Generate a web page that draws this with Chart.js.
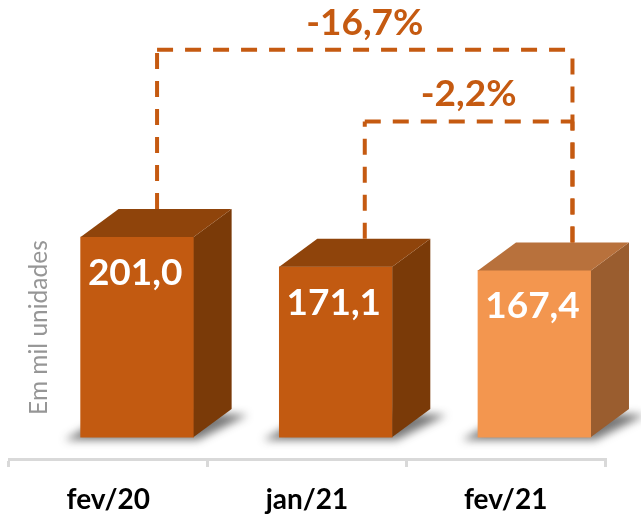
<!DOCTYPE html>
<html><head><meta charset="utf-8">
<script src="https://cdn.jsdelivr.net/npm/chart.js@4"></script>
<style>html,body{margin:0;padding:0;background:#fff}</style>
</head><body>
<canvas id="c" width="641" height="518"></canvas>
<script>
// ---- data ----
const categories = ['fev/20', 'jan/21', 'fev/21'];
const values = [201.0, 171.1, 167.4];
const compareFrom = [0, 1];
const compareTo = [2, 2];
const axisLabel = 'Em mil unidades';

// ---- styles ----
const FONT = 'Lato';
const ORANGE = '#C55A11';
const frontColors = ['#C25A11', '#C25A11', '#F3964F'];
const topColors = ['#8F440B', '#8F440B', '#B8713C'];
const sideColors = ['#7A3A08', '#7A3A08', '#9A5D2F'];
const DEPTH_X = 38, DEPTH_Y = 28;
const BAR_SHIFT = 0.145;
const bracketLevels = [389, 317];
const anchorFrac = [0.34, 0.42, 0.5];

const fmt = v => v.toFixed(1).replace('.', ',');

const box3d = {
  id: 'box3d',
  beforeDatasetsDraw(chart) {
    const ctx = chart.ctx;
    const meta = chart.getDatasetMeta(0);
    ctx.save();
    ctx.filter = 'blur(4px)';
    ctx.fillStyle = 'rgba(30,30,30,0.6)';
    meta.data.forEach(bar => {
      const {x, base, width} = bar.getProps(['x', 'base', 'width'], true);
      const l = x - width / 2, r = x + width / 2;
      ctx.beginPath();
      ctx.moveTo(l - 16, base + 3);
      ctx.lineTo(r + 4, base + 3);
      ctx.lineTo(r + DEPTH_X + 16, base - DEPTH_Y + 6);
      ctx.lineTo(l + DEPTH_X, base - DEPTH_Y);
      ctx.closePath();
      ctx.fill();
    });
    ctx.restore();
  },
  afterDatasetsDraw(chart) {
    const ctx = chart.ctx;
    const meta = chart.getDatasetMeta(0);
    const ys = chart.scales.y;
    const bars = meta.data.map(bar => bar.getProps(['x', 'y', 'base', 'width'], true));
    ctx.save();
    bars.forEach((b, i) => {
      const l = b.x - b.width / 2, r = b.x + b.width / 2;
      // side face
      ctx.fillStyle = sideColors[i];
      ctx.beginPath();
      ctx.moveTo(r, b.y);
      ctx.lineTo(r + DEPTH_X, b.y - DEPTH_Y);
      ctx.lineTo(r + DEPTH_X, b.base - DEPTH_Y);
      ctx.lineTo(r, b.base);
      ctx.closePath();
      ctx.fill();
      // top face
      ctx.fillStyle = topColors[i];
      ctx.beginPath();
      ctx.moveTo(l, b.y);
      ctx.lineTo(l + DEPTH_X, b.y - DEPTH_Y);
      ctx.lineTo(r + DEPTH_X, b.y - DEPTH_Y);
      ctx.lineTo(r, b.y);
      ctx.closePath();
      ctx.fill();
      // value label
      ctx.fillStyle = '#fff';
      ctx.font = 'bold 37px ' + FONT;
      ctx.textAlign = 'center';
      ctx.textBaseline = 'middle';
      ctx.fillText(fmt(values[i]), b.x - 2, b.y + 36);
    });
    // comparison brackets
    const anchorX = i => {
      const b = bars[i];
      return b.x - b.width / 2 + DEPTH_X + anchorFrac[i] * b.width;
    };
    ctx.strokeStyle = ORANGE;
    ctx.lineWidth = 4;
    ctx.setLineDash([16, 12]);
    compareFrom.forEach((f, k) => {
      const t = compareTo[k];
      const yb = ys.getPixelForValue(bracketLevels[k]);
      const xf = anchorX(f), xt = anchorX(t);
      [f, t].forEach(i => {
        ctx.beginPath();
        ctx.moveTo(anchorX(i), bars[i].y - DEPTH_Y);
        ctx.lineTo(anchorX(i), yb);
        ctx.stroke();
      });
      ctx.beginPath();
      ctx.moveTo(xf, yb);
      ctx.lineTo(xt, yb);
      ctx.stroke();
      const pct = (values[t] / values[f] - 1) * 100;
      ctx.fillStyle = ORANGE;
      ctx.font = 'bold 37px ' + FONT;
      ctx.textAlign = 'center';
      ctx.textBaseline = 'middle';
      ctx.fillText(fmt(pct) + '%', (xf + xt) / 2, yb - 27);
    });
    ctx.setLineDash([]);
    // axis title
    const ca = chart.chartArea;
    ctx.translate(ca.left + 30, ys.getPixelForValue(110));
    ctx.rotate(-Math.PI / 2);
    ctx.fillStyle = '#969696';
    ctx.font = '24.5px ' + FONT;
    ctx.textAlign = 'center';
    ctx.textBaseline = 'middle';
    ctx.fillText(axisLabel, 0, 0);
    ctx.restore();
  }
};

new Chart(document.getElementById('c'), {
  type: 'bar',
  data: {
    labels: categories,
    datasets: [{
      data: values.map((v, i) => ({x: i + BAR_SHIFT, y: v})),
      xAxisID: 'xb',
      yAxisID: 'y',
      backgroundColor: frontColors,
      borderWidth: 0,
      barThickness: 113
    }]
  },
  options: {
    responsive: false,
    animation: false,
    events: [],
    layout: {padding: {left: 9, right: 36, top: 0, bottom: -14.6}},
    plugins: {legend: {display: false}, tooltip: {enabled: false}},
    scales: {
      x: {
        type: 'category', axis: 'x', position: 'bottom', offset: true,
        grid: {offset: true, drawOnChartArea: false, tickLength: 8, color: '#D9D9D9', lineWidth: 3},
        border: {color: '#D9D9D9', width: 3},
        ticks: {color: '#000', font: {family: FONT, weight: 'bold', size: 28}, padding: 16, maxRotation: 0, autoSkip: false}
      },
      xb: {type: 'linear', axis: 'x', position: 'bottom', display: false, offset: false, grid: {offset: false}, min: -0.5, max: 2.5},
      y: {type: 'linear', display: false, min: -22, max: 439}
    }
  },
  plugins: [box3d]
});
</script>
</body></html>
